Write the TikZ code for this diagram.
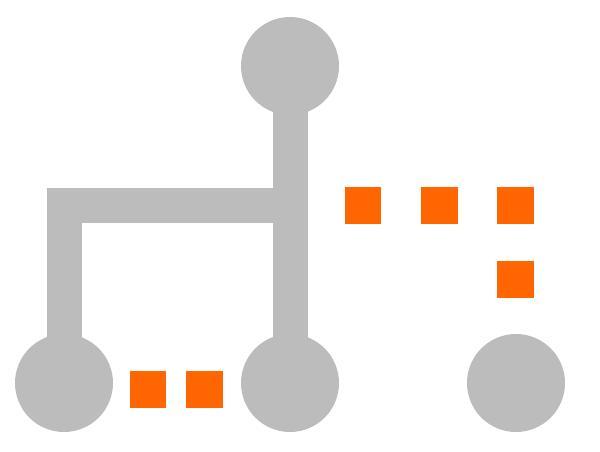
\documentclass[tikz,border=0pt]{standalone}
\definecolor{nodegray}{HTML}{BBBCBB}
\definecolor{dotorange}{HTML}{FF6600}
\tikzset{
  hub/.style={circle, fill=nodegray, draw=none, minimum size=98pt, inner sep=0pt},
  pipe/.style={draw=nodegray, line width=35pt, line join=miter},
  dotsq/.style={rectangle, fill=dotorange, draw=none, minimum size=36.5pt, inner sep=0pt}
}
\begin{document}
\begin{tikzpicture}[x=1pt, y=-1pt]
\useasboundingbox (0,0) rectangle (600,452);
\node[hub] (top) at (290,66) {};
\node[hub] (lc) at (64,383) {};
\node[hub] (mc) at (290,383) {};
\node[hub] (rc) at (516,383) {};
\coordinate (j) at (290,205);
\draw[pipe] (top.center) -- (mc.center);
\draw[pipe] (lc.center) |- (j);
\node[dotsq] (s1) at (363,205.5) {};
\node[dotsq] (s2) at (439.5,205.5) {};
\node[dotsq] (s3) at (515.5,205.5) {};
\node[dotsq] (s4) at (515.5,279.5) {};
\node[dotsq] (s5) at (148,389.5) {};
\node[dotsq] (s6) at (204.5,389.5) {};
\end{tikzpicture}
\end{document}
